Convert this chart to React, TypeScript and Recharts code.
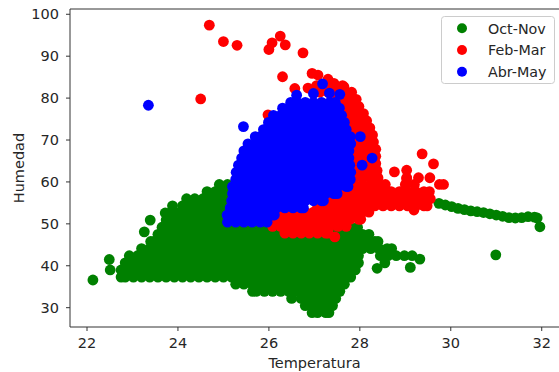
import React from "react";
import { ScatterChart, Scatter, XAxis, YAxis, ReferenceLine, Legend } from "recharts";

// Each row: [humedad, [temperaturas...]]; loose points are [temperatura, humedad].
type Row = [number, number[]];
type Pt = [number, number];

const octNovRows: Row[] = [
  [28.8, [26.95, 27.07, 27.25, 27.32]],
  [30.5, [26.8, 26.98, 27.16, 27.34, 27.4]],
  [32.2, [26.5, 26.71, 26.89, 27.07, 27.25, 27.43, 27.47]],
  [33.9, [25.64, 25.72, 25.9, 26.08, 26.26, 26.44, 26.62, 26.8, 26.98, 27.16, 27.34, 27.52, 27.56]],
  [35.6, [25.27, 25.45, 25.63, 25.81, 25.99, 26.17, 26.35, 26.53, 26.71, 26.89, 27.07, 27.25, 27.43, 27.61, 27.66]],
  [37.3, [22.75, 22.84, 23.02, 23.2, 23.38, 23.56, 23.74, 23.92, 24.1, 24.28, 24.46, 24.64, 24.82, 25.0, 25.18, 25.36, 25.54, 25.72, 25.9, 26.08, 26.26, 26.44, 26.62, 26.8, 26.98, 27.16, 27.34, 27.52, 27.7, 27.8]],
  [39.0, [22.75, 22.93, 23.11, 23.29, 23.47, 23.65, 23.83, 24.01, 24.19, 24.37, 24.55, 24.73, 24.91, 25.09, 25.27, 25.45, 25.63, 25.81, 25.99, 26.17, 26.35, 26.53, 26.71, 26.89, 27.07, 27.25, 27.43, 27.61, 27.79, 27.9]],
  [40.7, [22.84, 23.02, 23.2, 23.38, 23.56, 23.74, 23.92, 24.1, 24.28, 24.46, 24.64, 24.82, 25.0, 25.18, 25.36, 25.54, 25.72, 25.9, 26.08, 26.26, 26.44, 26.62, 26.8, 26.98, 27.16, 27.34, 27.52, 27.7, 27.88, 27.97, 28.55]],
  [42.4, [22.93, 23.11, 23.29, 23.47, 23.65, 23.83, 24.01, 24.19, 24.37, 24.55, 24.73, 24.91, 25.09, 25.27, 25.45, 25.63, 25.81, 25.99, 26.17, 26.35, 26.53, 26.71, 26.89, 27.07, 27.25, 27.43, 27.61, 27.79, 27.97, 28.45, 28.62, 28.8, 28.98, 29.15]],
  [44.1, [23.2, 23.38, 23.56, 23.74, 23.92, 24.1, 24.28, 24.46, 24.64, 24.82, 25.0, 25.18, 25.36, 25.54, 25.72, 25.9, 26.08, 26.26, 26.44, 26.62, 26.8, 26.98, 27.16, 27.34, 27.52, 27.7, 27.88, 28.06, 28.24, 28.42, 28.6, 28.7]],
  [45.8, [23.4, 23.47, 23.65, 23.83, 24.01, 24.19, 24.37, 24.55, 24.73, 24.91, 25.09, 25.27, 25.45, 25.63, 25.81, 25.99, 26.17, 26.35, 26.53, 26.71, 26.89, 27.07, 27.25, 27.43, 27.61, 27.79, 27.97, 28.15, 28.33, 28.4]],
  [47.5, [23.56, 23.74, 23.92, 24.1, 24.28, 24.46, 24.64, 24.82, 25.0, 25.18, 25.36, 25.54, 25.72, 25.9, 26.08, 26.26, 26.44, 26.62, 26.8, 26.98, 27.16, 27.34, 27.52, 27.7, 27.88, 28.06, 28.2]],
  [49.2, [23.65, 23.83, 24.01, 24.19, 24.37, 24.55, 24.73, 24.91, 25.09, 25.27, 25.45, 25.63, 25.81, 25.99, 26.17, 26.35, 26.53, 26.71, 26.89, 27.07, 27.25, 27.43, 27.61, 27.79, 27.95]],
  [50.9, [23.74, 23.92, 24.1, 24.28, 24.46, 24.64, 24.82, 25.0, 25.18, 25.3]],
  [52.6, [23.72, 23.83, 24.01, 24.19, 24.37, 24.55, 24.73, 24.91, 25.09, 25.2]],
  [54.3, [23.88, 24.1, 24.28, 24.46, 24.64, 24.82, 25.0, 25.18]],
  [56.0, [24.19, 24.37, 24.55, 24.73, 24.91, 25.09, 25.15]],
  [57.7, [24.64, 24.82, 25.0, 25.14]],
  [59.4, [24.91, 25.09]],
];
const octNovLoose: Pt[] = [
  [22.13, 36.6], [22.49, 41.5], [22.51, 39.0], [23.26, 48.1], [23.39, 50.9],
  [28.38, 39.4], [29.11, 39.6], [29.32, 41.6],
  [29.74, 54.9], [29.88, 54.5], [30.02, 54.1], [30.16, 53.7], [30.3, 53.4], [30.44, 53.1],
  [30.58, 52.9], [30.72, 52.7], [30.86, 52.4], [31.0, 52.1], [31.14, 51.8], [31.28, 51.5],
  [31.42, 51.4], [31.56, 51.5], [31.7, 51.7], [31.84, 51.6], [31.9, 51.4], [31.96, 49.3],
  [30.99, 42.6],
];

const febMarRows: Row[] = [
  [47.8, [26.35, 26.53, 26.71, 26.89, 27.07, 27.25, 27.3]],
  [49.4, [26.08, 26.26, 26.44, 26.62, 26.8, 26.98, 27.16, 27.34, 27.52, 27.7]],
  [51.1, [26.17, 26.35, 26.53, 26.71, 26.89, 27.07, 27.25, 27.43, 27.61, 27.79, 27.97, 28.02]],
  [52.8, [26.26, 26.44, 26.62, 26.8, 26.98, 27.16, 27.34, 27.52, 27.7, 27.88, 28.06, 28.2]],
  [54.3, [27.07, 27.25, 27.43, 27.61, 27.79, 27.97, 28.15, 28.33, 28.51, 28.69, 28.87, 29.05, 29.23, 29.41, 29.48]],
  [56.0, [27.34, 27.52, 27.7, 27.88, 28.06, 28.24, 28.42, 28.6, 28.78, 28.96, 29.14, 29.32, 29.5, 29.55]],
  [57.7, [27.61, 27.79, 27.97, 28.15, 28.33, 28.51, 28.69, 28.87, 29.05, 29.23, 29.41, 29.53]],
  [59.4, [27.7, 27.88, 28.06, 28.24, 28.42, 28.56, 29.0, 29.2, 29.75, 29.84]],
  [61.0, [27.8, 27.89, 28.07, 28.25, 28.4, 29.03, 29.29, 29.54]],
  [62.7, [27.8, 27.98, 28.16, 28.34, 28.38]],
  [64.4, [27.8, 27.89, 28.07, 28.25, 28.35]],
  [66.1, [27.8, 27.98, 28.16, 28.35]],
  [67.8, [27.8, 27.89, 28.07, 28.25, 28.35]],
  [69.5, [27.8, 27.98, 28.16, 28.3]],
  [71.2, [27.75, 27.93, 28.11, 28.28]],
  [72.9, [27.7, 27.88, 28.06, 28.22]],
  [74.6, [27.65, 27.83, 28.01, 28.15]],
  [76.3, [27.6, 27.78, 27.96, 28.08]],
  [78.0, [27.55, 27.73, 27.91, 27.98]],
  [79.7, [27.5, 27.68, 27.86, 27.92]],
  [81.4, [27.12, 27.3, 27.5, 27.68, 27.82]],
  [83.0, [27.05, 27.25, 27.45, 27.62]],
];
const febMarLoose: Pt[] = [
  [27.45, 46.9], [29.19, 53.3], [29.03, 60.8],
  [24.69, 97.4], [25.0, 93.5], [25.3, 92.6], [26.0, 91.6], [26.07, 93.2], [26.25, 94.8],
  [26.36, 92.7], [26.75, 90.8], [24.5, 79.8], [26.3, 85.1], [26.95, 85.9], [27.08, 85.5],
  [26.57, 82.3], [26.86, 82.4], [27.3, 84.5], [27.43, 83.5], [27.65, 82.7], [25.98, 76.0],
  [29.37, 66.7], [29.62, 64.3], [28.76, 62.4], [29.03, 62.8],
];

const abrMayRows: Row[] = [
  [50.4, [25.09, 25.27, 25.45, 25.63, 25.81, 25.96]],
  [52.1, [25.08, 25.18, 25.36, 25.54, 25.72, 25.9, 26.08, 26.12]],
  [53.8, [25.15, 25.27, 25.45, 25.63, 25.81, 25.99, 26.17, 26.35, 26.53, 26.71, 26.76]],
  [55.5, [25.18, 25.36, 25.54, 25.72, 25.9, 26.08, 26.26, 26.44, 26.62, 26.8, 26.98, 27.16, 27.2]],
  [57.2, [25.2, 25.27, 25.45, 25.63, 25.81, 25.99, 26.17, 26.35, 26.53, 26.71, 26.89, 27.07, 27.25, 27.43, 27.5]],
  [58.9, [25.2, 25.36, 25.54, 25.72, 25.9, 26.08, 26.26, 26.44, 26.62, 26.8, 26.98, 27.16, 27.34, 27.52, 27.7, 27.74]],
  [60.6, [25.27, 25.45, 25.63, 25.81, 25.99, 26.17, 26.35, 26.53, 26.71, 26.89, 27.07, 27.25, 27.43, 27.61, 27.79]],
  [62.3, [25.28, 25.36, 25.54, 25.72, 25.9, 26.08, 26.26, 26.44, 26.62, 26.8, 26.98, 27.16, 27.34, 27.52, 27.7, 27.8]],
  [64.0, [25.33, 25.45, 25.63, 25.81, 25.99, 26.17, 26.35, 26.53, 26.71, 26.89, 27.07, 27.25, 27.43, 27.61, 27.78, 28.05]],
  [65.7, [25.4, 25.54, 25.72, 25.9, 26.08, 26.26, 26.44, 26.62, 26.8, 26.98, 27.16, 27.34, 27.52, 27.7, 27.76, 28.27]],
  [67.4, [25.45, 25.63, 25.81, 25.99, 26.17, 26.35, 26.53, 26.71, 26.89, 27.07, 27.25, 27.43, 27.61, 27.76]],
  [69.1, [25.54, 25.72, 25.9, 26.08, 26.26, 26.44, 26.62, 26.8, 26.98, 27.16, 27.34, 27.52, 27.7, 27.8]],
  [70.8, [25.7, 25.81, 25.99, 26.17, 26.35, 26.53, 26.71, 26.89, 27.07, 27.25, 27.43, 27.61, 27.79, 28.01]],
  [72.5, [25.88, 26.08, 26.26, 26.44, 26.62, 26.8, 26.98, 27.16, 27.34, 27.52, 27.7]],
  [74.2, [25.99, 26.17, 26.35, 26.53, 26.71, 26.89, 27.07, 27.25, 27.43, 27.61, 27.66]],
  [75.9, [26.1, 26.26, 26.44, 26.62, 26.8, 26.98, 27.16, 27.34, 27.52, 27.6]],
  [77.6, [26.3, 26.42, 26.53, 26.71, 26.89, 27.07, 27.25, 27.43, 27.55]],
  [79.0, [26.48, 26.62, 26.8, 26.98, 27.16, 27.34, 27.46]],
];
const abrMayLoose: Pt[] = [
  [26.61, 80.7], [26.98, 81.1], [27.18, 83.4], [27.56, 80.9], [27.33, 81.2],
  [23.35, 78.3], [25.44, 73.2],
];

const xTicks = [22, 24, 26, 28, 30, 32];
const yTicks = [30, 40, 50, 60, 70, 80, 90, 100];
const X_MIN = 21.626;
const X_MAX = 32.38;
const Y_MIN = 25.39;
const Y_MAX = 101.26;

const FONT = "DejaVu Sans, sans-serif";
const TEXT = "#262626";
const AXIS = "#333333";
const DOT_R = 5.4;

const toPoints = (rows: Row[], loose: Pt[]) => {
  const out: { x: number; y: number }[] = [];
  rows.forEach(([y, xs]) => xs.forEach((x) => out.push({ x, y })));
  loose.forEach(([x, y]) => out.push({ x, y }));
  return out;
};

const series = [
  { name: "Oct-Nov", color: "#008000", data: toPoints(octNovRows, octNovLoose) },
  { name: "Feb-Mar", color: "#ff0000", data: toPoints(febMarRows, febMarLoose) },
  { name: "Abr-May", color: "#0000ff", data: toPoints(abrMayRows, abrMayLoose) },
];

const dot = (color: string) => (props: any) =>
  <circle cx={props.cx} cy={props.cy} r={DOT_R} fill={color} />;

function LegendBox() {
  return (
    <svg width={114} height={68}>
      <rect x={0.5} y={0.5} width={113} height={67} rx={3} fill="rgba(255,255,255,0.8)" stroke="#cccccc" />
      {series.map((s, i) => (
        <g key={s.name}>
          <circle cx={21} cy={12.3 + i * 21.7} r={5} fill={s.color} />
          <text x={47} y={17.5 + i * 21.7} fontSize={14.3} fontFamily={FONT} fill={TEXT}>{s.name}</text>
        </g>
      ))}
    </svg>
  );
}

export default function App() {
  return (
    <div style={{ position: "absolute", left: 0, top: 0, width: 559, height: 372, background: "#fff" }}>
      <ScatterChart width={559} height={372} margin={{ top: 9, right: 0, bottom: 0, left: 0 }}>
        <XAxis
          type="number"
          dataKey="x"
          domain={[X_MIN, X_MAX]}
          ticks={xTicks}
          allowDataOverflow
          height={45}
          axisLine={{ stroke: AXIS }}
          tickLine={{ stroke: AXIS }}
          tickSize={4}
          tickMargin={7}
          tick={{ fontSize: 14.5, fill: TEXT, fontFamily: FONT }}
          label={{ value: "Temperatura", position: "insideBottom", offset: 4, fontSize: 14.5, fill: TEXT, fontFamily: FONT }}
        />
        <YAxis
          type="number"
          dataKey="y"
          domain={[Y_MIN, Y_MAX]}
          ticks={yTicks}
          allowDataOverflow
          width={70}
          axisLine={{ stroke: AXIS }}
          tickLine={{ stroke: AXIS }}
          tickSize={4}
          tickMargin={7}
          tick={{ fontSize: 14.5, fill: TEXT, fontFamily: FONT }}
          label={{ value: "Humedad", angle: -90, position: "insideLeft", offset: 19, fontSize: 14.5, fill: TEXT, fontFamily: FONT, style: { textAnchor: "middle" } }}
        />
        <ReferenceLine y={Y_MAX} stroke={AXIS} />
        {series.map((s) => (
          <Scatter key={s.name} name={s.name} data={s.data} fill={s.color} shape={dot(s.color)} isAnimationActive={false} />
        ))}
        <Legend
          layout="vertical"
          align="center"
          verticalAlign="middle"
          content={() => <LegendBox />}
          wrapperStyle={{ position: "absolute", left: 441, top: 16, width: 114, height: 68 }}
        />
      </ScatterChart>
    </div>
  );
}
